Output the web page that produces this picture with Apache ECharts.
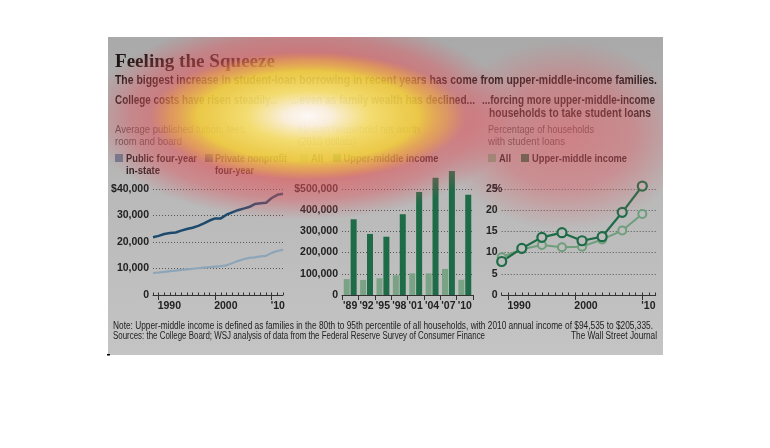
<!DOCTYPE html>
<html><head><meta charset="utf-8">
<script src="https://cdn.jsdelivr.net/npm/echarts@6/dist/echarts.min.js"></script>
<style>html,body{margin:0;padding:0;background:#fff}#c{width:770px;height:448px}</style>
</head><body><div id="c"></div>
<script>
// ---------- data ----------
const tuitionYears = [1989,1990,1991,1992,1993,1994,1995,1996,1997,1998,1999,2000,2001,2002,2003,2004,2005,2006,2007,2008,2009,2010,2011,2012];
const privateTuition = [21800,22300,23000,23400,23600,24300,24900,25400,26100,27000,28100,28900,28900,30300,31200,32000,32600,33200,34300,34600,34800,36600,37800,38200];
const publicTuition = [8300,8500,8700,9000,9200,9500,9700,9900,10100,10300,10500,10700,10900,11200,12000,12800,13500,14000,14200,14600,14800,15900,16600,17000];
const tuitionTicks = [1990,2000,2010];

const surveyLabels = ["'89","'92","'95","'98","'01","'04","'07","'10"];
const netWorthAll = [75000,71000,79000,93000,102000,102000,123000,72000];
const netWorthUpper = [357000,288000,275000,381000,486000,553000,585000,473000];

const loanYears = [1989,1992,1995,1998,2001,2004,2007,2010];
const loanAll = [8.9,10.8,11.8,11.25,11.4,13.1,15.2,19.1];
const loanUpper = [7.9,11.0,13.6,14.7,12.8,13.75,19.5,25.7];
const loanTicks = [1990,2000,2010];

// ---------- styling ----------
const F = '"Liberation Sans",Arial,sans-serif';
const C_PRIV = '#1c4a6c', C_PUB = '#8da5b9';
const C_UP = '#1d6b47', C_ALL = '#7aa385';
const AX = '#333';
const LBL = {fontFamily:F, fontSize:10.5, fontWeight:'bold', color:'#222'};

const mctx = document.createElement('canvas').getContext('2d');
function measure(text, size, weight, family){
  mctx.font = (weight||'normal') + ' ' + size + 'px ' + family;
  return mctx.measureText(text).width;
}

function yearLabel(v){ return v === 2010 ? "'10" : String(v); }
function zip(a,b){ return a.map((x,i)=>[x,b[i]]); }

// text fitted horizontally to the width it occupies in the reference
function txt(x,y,text,size,weight,fill,targetW,align,family){
  const fam = family || F;
  const w = measure(text,size,weight,fam);
  const sx = targetW ? Math.min(1.15, targetW / w) : 1;
  return {type:'text', x:x, y:y, scaleX:sx, z:50, silent:true,
    style:{text:text, fontFamily:fam, fontSize:size, fontWeight:weight||'normal', fill:fill||'#222',
      align:align||'left', verticalAlign:'middle'}};
}
function sq(x,y,color){
  return {type:'rect', x:x, y:y, z:50, silent:true, shape:{x:0,y:0,width:8,height:8}, style:{fill:color}};
}
function blob(cx,cy,rx,ry,z,stops){
  return {type:'circle', x:cx, y:cy, scaleX:rx/100, scaleY:ry/100, z:z, silent:true,
    shape:{cx:0,cy:0,r:100},
    style:{fill:{type:'radial',x:0.5,y:0.5,r:0.5,colorStops:stops.map(s=>({offset:s[0],color:s[1]}))}}};
}

const valueXAxis = (grid, ticks) => ({
  type:'value', gridIndex:grid, min:1989, max:2012,
  axisLine:{show:true, onZero:false, lineStyle:{color:AX, width:1}},
  axisTick:{show:true, length:5, customValues:ticks, lineStyle:{color:AX}},
  axisLabel:Object.assign({show:true, customValues:ticks, formatter:yearLabel, align:'left', margin:6, padding:[0,0,0,-1]}, LBL),
  splitLine:{show:false}
});
const minorXAxis = (grid) => ({
  type:'value', gridIndex:grid, min:1989, max:2012, interval:1,
  axisLine:{show:false}, axisTick:{show:true, length:2.5, lineStyle:{color:AX}},
  axisLabel:{show:false}, splitLine:{show:false}
});
const yAx = (grid, max, interval, fmt) => ({
  type:'value', gridIndex:grid, min:0, max:max, interval:interval,
  axisLine:{show:false}, axisTick:{show:false},
  axisLabel:Object.assign({formatter:fmt, margin:4}, LBL),
  splitLine:{show:true, lineStyle:{color:'#555', type:[1,2], width:1}}
});

const panelBg = {type:'rect', z:-10, silent:true, shape:{x:108,y:37,width:555,height:318},
  style:{fill:{type:'linear',x:0,y:0,x2:0,y2:1,colorStops:[{offset:0,color:'#a9a9a9'},{offset:0.5,color:'#b9b9b9'},{offset:1,color:'#c4c4c4'}]}}};

// attention-heat overlay on the picture
const heatRed = blob(302,118,215,102,98,[
  [0,'rgba(230,88,82,0.66)'],[0.6,'rgba(226,84,88,0.62)'],[0.8,'rgba(224,84,92,0.44)'],[1,'rgba(220,85,100,0)']]);
const heatRight = blob(565,135,125,95,99,[
  [0,'rgba(226,88,96,0.55)'],[0.55,'rgba(226,88,96,0.42)'],[1,'rgba(226,92,100,0)']]);
const heatYellow = blob(308,116,158,64,100,[
  [0,'rgba(255,255,255,0.95)'],[0.15,'rgba(255,255,235,0.88)'],[0.4,'rgba(252,248,110,0.78)'],
  [0.7,'rgba(246,234,50,0.7)'],[0.88,'rgba(242,190,60,0.42)'],[1,'rgba(240,170,60,0)']]);
const masks = [
  {type:'rect', z:120, silent:true, shape:{x:0,y:0,width:770,height:37}, style:{fill:'#fff'}},
  {type:'rect', z:120, silent:true, shape:{x:0,y:0,width:108,height:448}, style:{fill:'#fff'}},
  {type:'rect', z:120, silent:true, shape:{x:663,y:0,width:107,height:448}, style:{fill:'#fff'}},
  {type:'rect', z:120, silent:true, shape:{x:0,y:355,width:770,height:93}, style:{fill:'#fff'}},
  {type:'rect', z:121, silent:true, shape:{x:107,y:354,width:3,height:1.5}, style:{fill:'#000'}}
];

const B = 'bold', N = 'normal';
const texts = [
  txt(115,62,'Feeling the Squeeze',19,B,'#1e1614',160,'left','"Liberation Serif",serif'),
  txt(115,81,'The biggest increase in student-loan borrowing in recent years has come from upper-middle-income families.',12.5,B,'#151515',542),
  txt(115,100.5,'College costs have risen steadily...',12.5,B,'#1c1c1c',163),
  txt(291,100.5,'...even as family wealth has declined...',12.5,B,'#1c1c1c',184),
  txt(482,100.5,'...forcing more upper-middle-income',12.5,B,'#1c1c1c',173),
  txt(489,113.5,'households to take student loans',12.5,B,'#1c1c1c',162),
  txt(115,130,'Average published tuition, fees,',11,N,'#505050',132),
  txt(115,142,'room and board',11,N,'#505050',67),
  txt(298,130,'Median household net worth',11,N,'#505050',122),
  txt(298,142,'(2010 dollars)',11,N,'#505050',58),
  txt(488,130,'Percentage of households',11,N,'#505050',106),
  txt(488,142,'with student loans',11,N,'#505050',77),
  sq(115,154,'#6a7d92'), txt(126,158.5,'Public four-year',11.5,B,'#1c1c1c',71), txt(126,170.5,'in-state',11.5,B,'#1c1c1c',34),
  sq(205,154,'#3d5f7e'), txt(215,158.5,'Private nonprofit',11.5,B,'#1c1c1c',72), txt(215,170.5,'four-year',11.5,B,'#1c1c1c',39),
  sq(300,154,C_ALL), txt(311,158.5,'All',11.5,B,'#1c1c1c',12),
  sq(333,154,C_UP), txt(343.5,158.5,'Upper-middle income',11.5,B,'#1c1c1c',95),
  sq(488,154,C_ALL), txt(499,158.5,'All',11.5,B,'#1c1c1c',12),
  sq(521,154,C_UP), txt(532,158.5,'Upper-middle income',11.5,B,'#1c1c1c',95),
  txt(113,326.5,'Note: Upper-middle income is defined as families in the 80th to 95th percentile of all households, with 2010 annual income of $94,535 to $205,335.',10,N,'#222',540),
  txt(113,336.5,'Sources: the College Board; WSJ analysis of data from the Federal Reserve Survey of Consumer Finance',10,N,'#222',372),
  txt(657,336.5,'The Wall Street Journal',10,N,'#222',86,'right')
];

const option = {
  animation:false,
  backgroundColor:'#fff',
  grid:[
    {left:153, top:189, width:130, height:106},
    {left:342, top:189, width:131, height:106},
    {left:501.7, top:189, width:154, height:106}
  ],
  xAxis:[
    valueXAxis(0, tuitionTicks),
    minorXAxis(0),
    {type:'category', gridIndex:1, data:surveyLabels, boundaryGap:true,
      axisLine:{show:true, lineStyle:{color:AX}}, axisTick:{show:true, length:5, lineStyle:{color:AX}},
      axisLabel:Object.assign({margin:6, interval:0}, LBL)},
    valueXAxis(2, loanTicks),
    minorXAxis(2)
  ],
  yAxis:[
    yAx(0, 40000, 10000, v => v===40000 ? '$40,000' : v.toLocaleString('en-US')),
    yAx(1, 500000, 100000, v => v===500000 ? '$500,000' : v.toLocaleString('en-US')),
    yAx(2, 25, 5, v => v===25 ? '{n|25}{p|%}' : String(v))
  ],
  series:[
    {name:'Public four-year in-state', type:'line', xAxisIndex:0, yAxisIndex:0, data:zip(tuitionYears, publicTuition),
      showSymbol:false, color:C_PUB, lineStyle:{color:C_PUB, width:2.2}},
    {name:'Private nonprofit four-year', type:'line', xAxisIndex:0, yAxisIndex:0, data:zip(tuitionYears, privateTuition),
      showSymbol:false, color:C_PRIV, lineStyle:{color:C_PRIV, width:2.5}},
    {name:'All', type:'bar', xAxisIndex:2, yAxisIndex:1, data:netWorthAll, barWidth:6, barGap:'15%', itemStyle:{color:C_ALL}, clip:false},
    {name:'Upper-middle income', type:'bar', xAxisIndex:2, yAxisIndex:1, data:netWorthUpper, barWidth:6, barGap:'15%', itemStyle:{color:C_UP}, clip:false},
    {name:'All (loans)', type:'line', xAxisIndex:3, yAxisIndex:2, data:zip(loanYears, loanAll), symbol:'circle', symbolSize:8, clip:false,
      lineStyle:{color:'#6e9e7b', width:2}, itemStyle:{color:'#bdbdbd', borderColor:'#6e9e7b', borderWidth:2}},
    {name:'Upper-middle income (loans)', type:'line', xAxisIndex:3, yAxisIndex:2, data:zip(loanYears, loanUpper), symbol:'circle', symbolSize:9, clip:false,
      lineStyle:{color:C_UP, width:2.2}, itemStyle:{color:'#bdbdbd', borderColor:C_UP, borderWidth:2.2}}
  ],
  graphic:{elements:[panelBg].concat(texts, [heatRed, heatRight, heatYellow], masks)}
};
option.yAxis[2].axisLabel.rich = {n:Object.assign({}, LBL), p:Object.assign({width:0, align:'left'}, LBL)};
const chart = echarts.init(document.getElementById('c'));
chart.setOption(option);
</script></body></html>
